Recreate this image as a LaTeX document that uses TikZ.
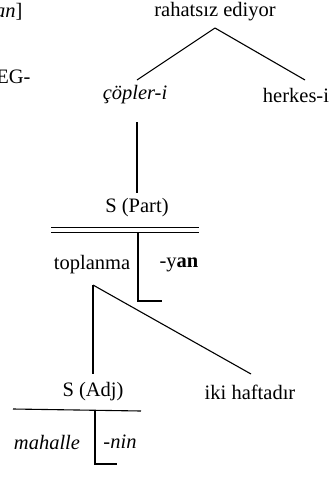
\documentclass[tikz,border=0pt]{standalone}
\usepackage{fontspec}
\setmainfont{Liberation Serif}
\usetikzlibrary{positioning}

\begin{document}
\begin{tikzpicture}[x=1pt, y=1pt, line width=1.1pt,
    word/.style={inner sep=3pt, font=\fontsize{20.5}{24}\selectfont}]
      \useasboundingbox (0,0) rectangle (336,-477);

      % Nodes
      \node[word, anchor=east] (prev) at (26,-12) {\textit{an}]};
      \node[word, anchor=east] (neg) at (34,-77) {EG-};
      \node[word] (rahatsiz) at (215,-12) {rahatsız ediyor};
      \node[word] (copleri) at (135,-95) {\textit{çöpler-i}};
      \node[word] (herkesi) at (296,-95) {herkes-i};
      \node[word] (spart) at (137,-208) {S (Part)};
      \node[word] (toplanma) at (92,-265) {toplanma};
      \node[word] (yan) at (179,-265) {-y\textbf{an}};
      \node[word] (sadj) at (93,-392) {S (Adj)};
      \node[word] (haftadir) at (250,-392) {iki haftadır};
      \node[word] (mahalle) at (47,-442) {\textit{mahalle}};
      \node[word] (nin) at (120,-442) {\textit{-nin}};

      % Coordinates
      \coordinate (apex) at (215,-28);
      \coordinate (split) at (93,-285);
      \coordinate (partend) at (162,-301);
      \coordinate (adjend) at (117,-464);

      % Edges
      \draw (apex) -- (137,-80);
      \draw (apex) -- (305,-80);
      \draw (137,-122) -- (137,-193);
      \draw[double, double distance=4.4pt] (51,-230) -- (199,-230);
      \draw (138,-233) |- (partend);
      \draw (split) -- (93,-374);
      \draw (split) -- (251,-374);
      \draw (13,-409) -- (141,-411);
      \draw (95,-410) |- (adjend);

    \end{tikzpicture}
\end{document}
